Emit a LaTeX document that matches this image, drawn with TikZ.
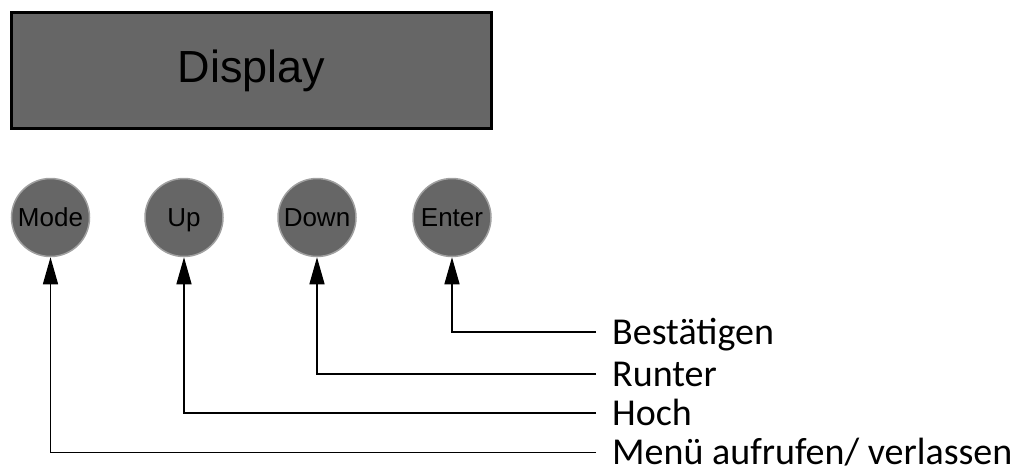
\documentclass[tikz,border=0pt]{standalone}
\usepackage{fontspec}
\setmainfont{Carlito}
\newfontfamily\arialfont{Liberation Sans}
\usetikzlibrary{arrows.meta}

\definecolor{panelgray}{HTML}{666666}
\definecolor{rimgray}{HTML}{A0A0A0}

\tikzset{
  screen/.style={draw=black, line width=3pt, fill=panelgray, minimum width=480pt, minimum height=116pt, inner sep=0pt, text height=32pt, text depth=8pt, font=\arialfont\fontsize{45}{45}\selectfont},
  knob/.style={circle, fill=panelgray, draw=rimgray, line width=1.5pt, minimum size=78pt, inner sep=0pt, text height=18.6pt, text depth=0pt, font=\arialfont\fontsize{26}{26}\selectfont},
  legend/.style={anchor=west, inner sep=0pt, text height=24.4pt, text depth=0pt, font=\fontsize{38}{38}\selectfont},
  pointer/.style={-{Triangle[width=15pt,length=27pt]}, line width=1.5pt, shorten <=16pt},
}

\begin{document}
\begin{tikzpicture}[x=1pt,y=-1pt]
\useasboundingbox (0,0) rectangle (1034,474);

\node[screen] (display) at (251.3,70.5) {Display};

% buttons
\node[knob] (mode)  at (50.5,217.5) {Mode};
\node[knob] (up)    at (184,217.5)  {Up};
\node[knob] (down)  at (317,217.5)  {Down};
\node[knob] (enter) at (452,217.5)  {Enter};

% legend
\node[legend] (confirm) at (612,332) {Bestätigen};
\node[legend] (runter)  at (612,374) {Runter};
\node[legend] (hoch)    at (612,413) {Hoch};
\node[legend] (menu)    at (612,452.5) {Menü aufrufen/ verlassen};

\draw[pointer] (confirm.west) -| (enter.south);
\draw[pointer] (runter.west)  -| (down.south);
\draw[pointer] (hoch.west)    -| (up.south);
\draw[pointer] (menu.west)    -| (mode.south);

\end{tikzpicture}
\end{document}
